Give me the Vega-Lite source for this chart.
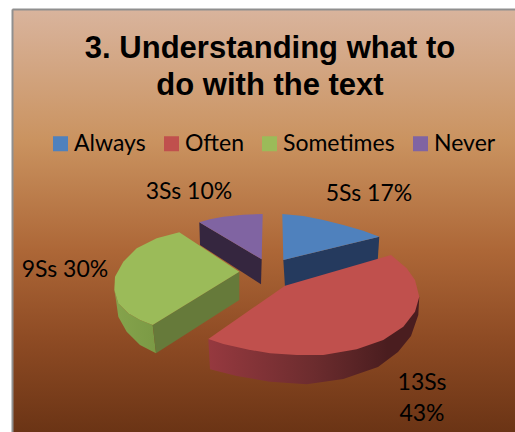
{
  "$schema": "https://vega.github.io/schema/vega-lite/v6.json",
  "width": 503,
  "height": 423,
  "autosize": "none",
  "padding": {"left": 12, "top": 9, "right": 0, "bottom": 0},
  "background": "white",
  "view": {
    "stroke": null,
    "fill": {
      "gradient": "linear", "x1": 0, "y1": 0, "x2": 0, "y2": 1,
      "stops": [
        {"offset": 0, "color": "#d9b49d"},
        {"offset": 0.31, "color": "#ca9360"},
        {"offset": 0.57, "color": "#ad6737"},
        {"offset": 0.78, "color": "#8e4b24"},
        {"offset": 1, "color": "#6b3415"}
      ]
    }
  },
  "datasets": {
    "heading": [
      {"label": "3. Understanding what to\ndo with the text", "h": 270, "v": 58}
    ],
    "tops": [
      {"answer": "Always", "seq": 0, "h": 283.3, "v": 260},
      {"answer": "Always", "seq": 1, "h": 282.3, "v": 214},
      {"answer": "Always", "seq": 2, "h": 303.3, "v": 216},
      {"answer": "Always", "seq": 3, "h": 323.3, "v": 220},
      {"answer": "Always", "seq": 4, "h": 343.3, "v": 225},
      {"answer": "Always", "seq": 5, "h": 363.3, "v": 230.7},
      {"answer": "Always", "seq": 6, "h": 379.3, "v": 236.7},

      {"answer": "Often", "seq": 0, "h": 285, "v": 285.7},
      {"answer": "Often", "seq": 1, "h": 391, "v": 255},
      {"answer": "Often", "seq": 2, "h": 406.7, "v": 268.3},
      {"answer": "Often", "seq": 3, "h": 415, "v": 280},
      {"answer": "Often", "seq": 4, "h": 419.3, "v": 296.7},
      {"answer": "Often", "seq": 5, "h": 415, "v": 311.7},
      {"answer": "Often", "seq": 6, "h": 403.3, "v": 326.7},
      {"answer": "Often", "seq": 7, "h": 383.3, "v": 340},
      {"answer": "Often", "seq": 8, "h": 356.7, "v": 349.3},
      {"answer": "Often", "seq": 9, "h": 323.3, "v": 355},
      {"answer": "Often", "seq": 10, "h": 296.7, "v": 355},
      {"answer": "Often", "seq": 11, "h": 270, "v": 353.3},
      {"answer": "Often", "seq": 12, "h": 246.7, "v": 349.3},
      {"answer": "Often", "seq": 13, "h": 223.3, "v": 344},
      {"answer": "Often", "seq": 14, "h": 208.3, "v": 339},

      {"answer": "Sometimes", "seq": 0, "h": 152.7, "v": 325},
      {"answer": "Sometimes", "seq": 1, "h": 239.3, "v": 271.7},
      {"answer": "Sometimes", "seq": 2, "h": 179.3, "v": 232.3},
      {"answer": "Sometimes", "seq": 3, "h": 156.7, "v": 238.3},
      {"answer": "Sometimes", "seq": 4, "h": 136.7, "v": 248.3},
      {"answer": "Sometimes", "seq": 5, "h": 123.3, "v": 261.7},
      {"answer": "Sometimes", "seq": 6, "h": 115, "v": 276.7},
      {"answer": "Sometimes", "seq": 7, "h": 114.3, "v": 290},
      {"answer": "Sometimes", "seq": 8, "h": 118.3, "v": 303.3},
      {"answer": "Sometimes", "seq": 9, "h": 128.3, "v": 313.3},
      {"answer": "Sometimes", "seq": 10, "h": 140, "v": 320},

      {"answer": "Never", "seq": 0, "h": 261.7, "v": 259.3},
      {"answer": "Never", "seq": 1, "h": 262.7, "v": 214},
      {"answer": "Never", "seq": 2, "h": 243.3, "v": 214.7},
      {"answer": "Never", "seq": 3, "h": 223.3, "v": 216.7},
      {"answer": "Never", "seq": 4, "h": 210, "v": 219.3},
      {"answer": "Never", "seq": 5, "h": 199.3, "v": 222.3}
    ],
    "sides": [
      {"wall": "blue", "seq": 0, "h": 283.3, "v": 260},
      {"wall": "blue", "seq": 1, "h": 379.3, "v": 236.7},
      {"wall": "blue", "seq": 2, "h": 377.7, "v": 260.7},
      {"wall": "blue", "seq": 3, "h": 285, "v": 286.7},

      {"wall": "red", "seq": 0, "h": 419.3, "v": 296.7},
      {"wall": "red", "seq": 1, "h": 418.3, "v": 315},
      {"wall": "red", "seq": 2, "h": 411, "v": 336},
      {"wall": "red", "seq": 3, "h": 398, "v": 352},
      {"wall": "red", "seq": 4, "h": 378, "v": 367},
      {"wall": "red", "seq": 5, "h": 343.3, "v": 379},
      {"wall": "red", "seq": 6, "h": 306.7, "v": 384.3},
      {"wall": "red", "seq": 7, "h": 270, "v": 381.7},
      {"wall": "red", "seq": 8, "h": 236.7, "v": 376},
      {"wall": "red", "seq": 9, "h": 210, "v": 369.3},
      {"wall": "red", "seq": 10, "h": 208.3, "v": 339},
      {"wall": "red", "seq": 11, "h": 290, "v": 353},

      {"wall": "greenFront", "seq": 0, "h": 152.7, "v": 325},
      {"wall": "greenFront", "seq": 1, "h": 239.3, "v": 271.7},
      {"wall": "greenFront", "seq": 2, "h": 239.3, "v": 300},
      {"wall": "greenFront", "seq": 3, "h": 156, "v": 353.3},

      {"wall": "greenRim", "seq": 0, "h": 114.3, "v": 290},
      {"wall": "greenRim", "seq": 1, "h": 118.3, "v": 303.3},
      {"wall": "greenRim", "seq": 2, "h": 128.3, "v": 313.3},
      {"wall": "greenRim", "seq": 3, "h": 140, "v": 320},
      {"wall": "greenRim", "seq": 4, "h": 152.7, "v": 325},
      {"wall": "greenRim", "seq": 5, "h": 156, "v": 353.3},
      {"wall": "greenRim", "seq": 6, "h": 140, "v": 345},
      {"wall": "greenRim", "seq": 7, "h": 126.7, "v": 331.7},
      {"wall": "greenRim", "seq": 8, "h": 118.3, "v": 316.7},
      {"wall": "greenRim", "seq": 9, "h": 116, "v": 300},

      {"wall": "purple", "seq": 0, "h": 199.3, "v": 222.3},
      {"wall": "purple", "seq": 1, "h": 261.7, "v": 259.3},
      {"wall": "purple", "seq": 2, "h": 261, "v": 284.3},
      {"wall": "purple", "seq": 3, "h": 200, "v": 245}
    ],
    "labels": [
      {"answer": "Always", "students": 5, "label": "5Ss 17%", "h": 369, "v": 194},
      {"answer": "Often", "students": 13, "label": "13Ss\n43%", "h": 422, "v": 383},
      {"answer": "Sometimes", "students": 9, "label": "9Ss 30%", "h": 65, "v": 270},
      {"answer": "Never", "students": 3, "label": "3Ss 10%", "h": 189, "v": 192}
    ]
  },
  "encoding": {
    "x": {
      "field": "h", "type": "quantitative",
      "scale": {"domain": [12, 515], "nice": false, "zero": false},
      "axis": {"orient": "top", "title": null, "grid": false, "ticks": false, "labels": false, "domain": true, "domainColor": "#8f8f8f", "domainWidth": 2}
    },
    "y": {
      "field": "v", "type": "quantitative",
      "scale": {"domain": [9, 432], "nice": false, "zero": false, "reverse": true},
      "axis": {"orient": "left", "title": null, "grid": false, "ticks": false, "labels": false, "domain": true, "domainColor": "#8f8f8f", "domainWidth": 2}
    },
    "order": {"field": "seq", "type": "quantitative"}
  },
  "layer": [
    {
      "data": {"name": "sides"},
      "transform": [{"filter": "datum.wall === 'purple'"}],
      "mark": {"type": "line", "fill": "#35263f", "stroke": null}
    },
    {
      "data": {"name": "sides"},
      "transform": [{"filter": "datum.wall === 'blue'"}],
      "mark": {"type": "line", "fill": "#253a5e", "stroke": null}
    },
    {
      "data": {"name": "sides"},
      "transform": [{"filter": "datum.wall === 'red'"}],
      "mark": {
        "type": "line", "stroke": null,
        "fill": {
          "gradient": "linear", "x1": 0, "y1": 0, "x2": 1, "y2": 0,
          "stops": [
            {"offset": 0, "color": "#96393f"},
            {"offset": 0.5, "color": "#6c2c2e"},
            {"offset": 0.85, "color": "#4a1d1f"},
            {"offset": 1, "color": "#4a1d1f"}
          ]
        }
      }
    },
    {
      "data": {"name": "sides"},
      "transform": [{"filter": "datum.wall === 'greenRim'"}],
      "mark": {
        "type": "line", "stroke": null,
        "fill": {
          "gradient": "linear", "x1": 0, "y1": 0, "x2": 1, "y2": 0,
          "stops": [
            {"offset": 0, "color": "#85a34c"},
            {"offset": 1, "color": "#7b9a45"}
          ]
        }
      }
    },
    {
      "data": {"name": "sides"},
      "transform": [{"filter": "datum.wall === 'greenFront'"}],
      "mark": {"type": "line", "fill": "#667a3a", "stroke": null}
    },
    {
      "data": {"name": "tops"},
      "mark": {"type": "line", "stroke": null},
      "encoding": {
        "fill": {
          "field": "answer", "type": "nominal",
          "scale": {
            "domain": ["Always", "Often", "Sometimes", "Never"],
            "range": ["#4f81bd", "#c0504d", "#9bbb59", "#8064a2"]
          },
          "legend": {
            "title": null,
            "orient": "none",
            "legendX": 37,
            "legendY": 123,
            "direction": "horizontal",
            "columns": 4,
            "columnPadding": 14,
            "symbolType": "square",
            "symbolSize": 225,
            "symbolStrokeWidth": 0,
            "labelFont": "Lato",
            "labelFontSize": 23,
            "labelColor": "#000000",
            "labelOffset": 2,
            "labelLimit": 200
          }
        }
      }
    },
    {
      "data": {"name": "labels"},
      "mark": {"type": "text", "font": "Lato", "fontSize": 23, "color": "#000000", "align": "center", "baseline": "middle", "lineBreak": "\n", "lineHeight": 31},
      "encoding": {
        "text": {"field": "label", "type": "nominal"}
      }
    },
    {
      "data": {"name": "heading"},
      "mark": {"type": "text", "font": "Liberation Sans", "fontSize": 31, "fontWeight": "bold", "color": "#000000", "align": "center", "baseline": "alphabetic", "lineBreak": "\n", "lineHeight": 37},
      "encoding": {
        "text": {"field": "label", "type": "nominal"}
      }
    }
  ]
}
